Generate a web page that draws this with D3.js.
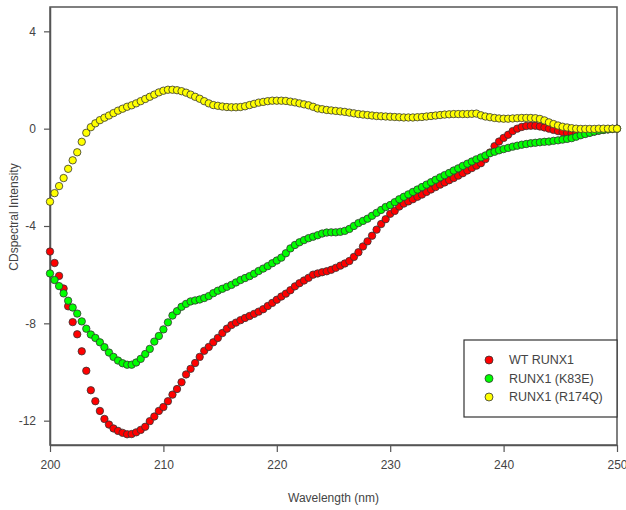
<!DOCTYPE html>
<html>
<head>
<meta charset="utf-8">
<script src="https://cdn.jsdelivr.net/npm/d3@7"></script>
<style>
  body { margin: 0; background: #fff; }
  svg { display: block; font-family: "Liberation Sans", Arial, sans-serif; }
</style>
</head>
<body>
<svg id="chart" width="626" height="510"></svg>
<script>
// wavelength (nm), 0.4 nm steps
var wavelength = [
  200,200.4,200.8,201.2,201.6,202,202.4,202.8,203.2,203.6,
  204,204.4,204.8,205.2,205.6,206,206.4,206.8,207.2,207.6,
  208,208.4,208.8,209.2,209.6,210,210.4,210.8,211.2,211.6,
  212,212.4,212.8,213.2,213.6,214,214.4,214.8,215.2,215.6,
  216,216.4,216.8,217.2,217.6,218,218.4,218.8,219.2,219.6,
  220,220.4,220.8,221.2,221.6,222,222.4,222.8,223.2,223.6,
  224,224.4,224.8,225.2,225.6,226,226.4,226.8,227.2,227.6,
  228,228.4,228.8,229.2,229.6,230,230.4,230.8,231.2,231.6,
  232,232.4,232.8,233.2,233.6,234,234.4,234.8,235.2,235.6,
  236,236.4,236.8,237.2,237.6,238,238.4,238.8,239.2,239.6,
  240,240.4,240.8,241.2,241.6,242,242.4,242.8,243.2,243.6,
  244,244.4,244.8,245.2,245.6,246,246.4,246.8,247.2,247.6,
  248,248.4,248.8,249.2,249.6,250
];

var wtRunx1 = [
  -5.05,-5.52,-6.05,-6.57,-7.3,-7.95,-8.45,-9.15,-9.95,-10.75,
  -11.2,-11.6,-11.93,-12.16,-12.32,-12.42,-12.5,-12.56,-12.55,-12.48,
  -12.38,-12.25,-12.02,-11.83,-11.6,-11.44,-11.2,-10.93,-10.7,-10.42,
  -10.1,-9.87,-9.63,-9.38,-9.13,-8.97,-8.78,-8.6,-8.4,-8.22,
  -8.07,-7.97,-7.87,-7.78,-7.7,-7.61,-7.52,-7.42,-7.29,-7.16,
  -7.03,-6.9,-6.78,-6.64,-6.48,-6.35,-6.24,-6.13,-6.0,-5.95,
  -5.9,-5.86,-5.8,-5.72,-5.63,-5.54,-5.44,-5.27,-5.08,-4.84,
  -4.63,-4.4,-4.15,-3.92,-3.72,-3.5,-3.38,-3.2,-3.08,-2.99,
  -2.9,-2.8,-2.71,-2.6,-2.5,-2.4,-2.3,-2.21,-2.12,-2.03,
  -1.93,-1.83,-1.72,-1.62,-1.52,-1.42,-1.25,-0.98,-0.72,-0.53,
  -0.38,-0.25,-0.1,0.0,0.07,0.11,0.12,0.12,0.09,0.05,
  0.0,-0.05,-0.1,-0.14,-0.17,-0.19,-0.2,-0.2,-0.19,-0.16,
  -0.12,-0.08,-0.05,-0.03,-0.01,0.0
];

var k83e = [
  -5.95,-6.22,-6.47,-6.77,-7.07,-7.35,-7.6,-7.92,-8.22,-8.46,
  -8.6,-8.78,-8.98,-9.2,-9.38,-9.53,-9.64,-9.7,-9.7,-9.61,
  -9.46,-9.26,-9.05,-8.75,-8.52,-8.25,-7.96,-7.68,-7.5,-7.32,
  -7.2,-7.1,-7.06,-7.02,-6.96,-6.88,-6.76,-6.66,-6.58,-6.5,
  -6.42,-6.32,-6.22,-6.14,-6.06,-5.96,-5.85,-5.75,-5.65,-5.53,
  -5.42,-5.3,-5.12,-4.92,-4.78,-4.67,-4.58,-4.5,-4.44,-4.38,
  -4.31,-4.27,-4.26,-4.26,-4.24,-4.2,-4.12,-4.0,-3.88,-3.79,
  -3.7,-3.58,-3.46,-3.34,-3.22,-3.14,-3.02,-2.9,-2.8,-2.7,
  -2.6,-2.5,-2.4,-2.3,-2.2,-2.1,-2.0,-1.91,-1.82,-1.72,
  -1.63,-1.53,-1.44,-1.35,-1.26,-1.18,-1.1,-1.01,-0.95,-0.89,
  -0.84,-0.79,-0.74,-0.7,-0.66,-0.63,-0.6,-0.58,-0.56,-0.54,
  -0.53,-0.5,-0.48,-0.45,-0.42,-0.39,-0.33,-0.27,-0.22,-0.17,
  -0.12,-0.08,-0.05,-0.03,-0.01,0.0
];

var r174q = [
  -3.0,-2.65,-2.36,-2.03,-1.65,-1.3,-0.97,-0.54,-0.17,0.06,
  0.22,0.35,0.45,0.54,0.64,0.74,0.82,0.9,0.96,1.04,
  1.13,1.22,1.31,1.4,1.49,1.56,1.6,1.6,1.58,1.54,
  1.48,1.4,1.31,1.23,1.13,1.04,0.97,0.94,0.91,0.89,
  0.88,0.88,0.89,0.92,0.97,1.02,1.07,1.1,1.13,1.15,
  1.15,1.15,1.14,1.11,1.08,1.04,1.0,0.96,0.9,0.83,
  0.8,0.77,0.75,0.73,0.71,0.69,0.66,0.63,0.6,0.58,
  0.56,0.54,0.52,0.51,0.5,0.49,0.48,0.47,0.46,0.46,
  0.46,0.47,0.48,0.5,0.52,0.54,0.56,0.58,0.59,0.6,
  0.6,0.6,0.6,0.61,0.62,0.55,0.5,0.47,0.44,0.42,
  0.41,0.41,0.42,0.43,0.44,0.44,0.44,0.43,0.4,0.34,
  0.26,0.19,0.13,0.08,0.05,0.02,0.0,-0.01,-0.01,-0.01,
  -0.01,0.0,0.0,0.0,0.0,0.0
];

var seriesNames = ["WT RUNX1", "RUNX1 (K83E)", "RUNX1 (R174Q)"];
var seriesColors = ["#ff0000", "#00ff00", "#ffff00"];
var xTicks = [200, 210, 220, 230, 240, 250];
var yTicks = [4, 0, -4, -8, -12];

(function() {
  var series = [wtRunx1, k83e, r174q].map(function(vals, k) {
    return {
      name: seriesNames[k],
      color: seriesColors[k],
      points: vals.map(function(v, i) { return { x: wavelength[i], y: v }; })
    };
  });

  var svg = d3.select("#chart");
  var plotLeft = 50, plotRight = 617, plotTop = 7, plotBottom = 445;

  var x = d3.scaleLinear().domain([200, 250]).range([plotLeft, plotRight]);
  var y = d3.scaleLinear().domain([-13, 5]).range([plotBottom, plotTop]);

  // plain hyphen for negatives, like the original
  var plain = function(d) { return String(d); };

  // frame
  svg.append("rect")
    .attr("x", plotLeft).attr("y", plotTop)
    .attr("width", plotRight - plotLeft).attr("height", plotBottom - plotTop)
    .attr("fill", "none").attr("stroke", "#555").attr("stroke-width", 1.5);

  var xAxis = svg.append("g")
    .attr("transform", "translate(0," + plotBottom + ")")
    .call(d3.axisBottom(x).tickValues(xTicks).tickFormat(plain)
      .tickSize(7).tickSizeOuter(0).tickPadding(8));

  var yAxis = svg.append("g")
    .attr("transform", "translate(" + plotLeft + ",0)")
    .call(d3.axisLeft(y).tickValues(yTicks).tickFormat(plain)
      .tickSize(6).tickSizeOuter(0).tickPadding(8));

  [xAxis, yAxis].forEach(function(g) {
    g.select(".domain").attr("stroke", "#555").attr("stroke-width", 1.5);
    g.selectAll(".tick line").attr("stroke", "#555").attr("stroke-width", 1.2);
    g.selectAll(".tick text")
      .attr("fill", "#444")
      .style("font-size", "12px")
      .style("font-family", "'Liberation Sans', Arial, sans-serif");
  });

  // points
  series.forEach(function(s) {
    svg.append("g")
      .selectAll("circle")
      .data(s.points)
      .join("circle")
        .attr("cx", function(d) { return x(d.x); })
        .attr("cy", function(d) { return y(d.y); })
        .attr("r", 3.7)
        .attr("fill", s.color)
        .attr("stroke", "#333")
        .attr("stroke-width", 0.8);
  });

  // axis titles
  svg.append("text")
    .attr("x", (plotLeft + plotRight) / 2)
    .attr("y", 502)
    .attr("text-anchor", "middle")
    .attr("fill", "#444")
    .style("font-size", "12px")
    .text("Wavelength (nm)");

  svg.append("text")
    .attr("transform", "translate(18,217) rotate(-90)")
    .attr("text-anchor", "middle")
    .attr("fill", "#444")
    .style("font-size", "12px")
    .text("CDspectral Intensity");

  // legend
  var legend = svg.append("g").attr("transform", "translate(464,340)");
  legend.append("rect")
    .attr("width", 153).attr("height", 77)
    .attr("fill", "#fff").attr("stroke", "#333").attr("stroke-width", 1.2);

  var item = legend.selectAll("g.item")
    .data(series)
    .join("g")
      .attr("class", "item")
      .attr("transform", function(d, i) { return "translate(0," + (20 + i * 18.5) + ")"; });

  item.append("circle")
    .attr("cx", 25).attr("r", 4)
    .attr("fill", function(d) { return d.color; })
    .attr("stroke", "#333").attr("stroke-width", 0.8);

  item.append("text")
    .attr("x", 45).attr("dy", "0.35em")
    .attr("fill", "#444")
    .style("font-size", "12.5px")
    .text(function(d) { return d.name; });
})();
</script>
</body>
</html>
